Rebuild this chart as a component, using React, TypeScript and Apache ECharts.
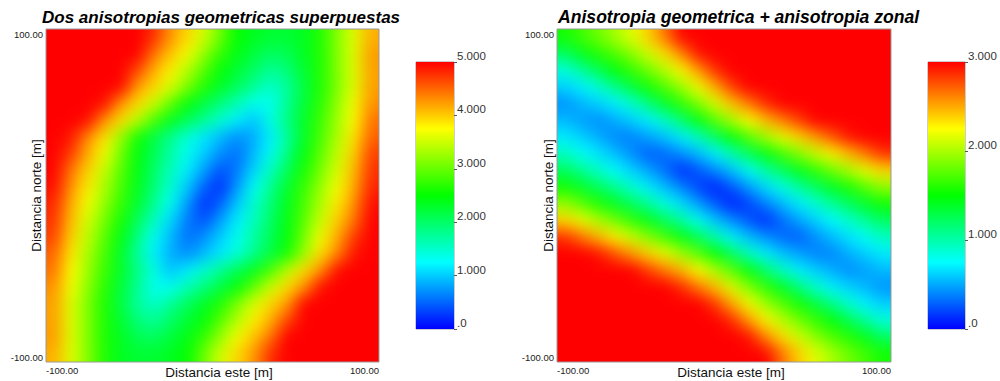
import React, { useEffect, useRef } from 'react';
import * as echarts from 'echarts';

// ---------- data ----------
// Cell centres (metres) of the variogram-map grid, west->east and south->north
const CELL_CENTERS = [-95, -85, -75, -65, -55, -45, -35, -25, -15, -5, 5, 15, 25, 35, 45, 55, 65, 75, 85, 95];
const AXIS_MIN = -100;
const AXIS_MAX = 100;
const LEFT_SCALE_TICKS = [0, 1, 2, 3, 4, 5];
const RIGHT_SCALE_TICKS = [0, 1, 2, 3];
const LEFT_TITLE = 'Dos anisotropias geometricas superpuestas';
const RIGHT_TITLE = 'Anisotropia geometrica + anisotropia zonal';
const X_NAME = 'Distancia este [m]';
const Y_NAME = 'Distancia norte [m]';
const RAINBOW = ['#0000ff', '#00ffff', '#00ff00', '#ffff00', '#ff0000'];

// Rows listed from north (y = 95) to south (y = -95), columns west (x = -95) to east (x = 95)
const LEFT_ROWS = [
  [5, 5, 5, 5, 5, 5, 4.78, 4.27, 3.94, 3.54, 3.02, 2.5, 2.35, 2.27, 2.25, 2.35, 2.65, 3.15, 3.6, 4.15],
  [5, 5, 5, 5, 5, 5, 4.43, 4.04, 3.7, 3.22, 2.74, 2.4, 2.2, 2.02, 2.1, 2.34, 2.64, 3.13, 3.6, 4.25],
  [5, 5, 5, 5, 5, 4.65, 4.14, 3.81, 3.38, 2.92, 2.47, 2.24, 2.0, 1.76, 1.91, 2.26, 2.64, 3.13, 3.6, 4.23],
  [5, 5, 5, 5, 4.97, 4.24, 3.93, 3.56, 3.1, 2.64, 2.31, 2.04, 1.77, 1.5, 1.74, 2.19, 2.64, 3.12, 3.6, 4.23],
  [5, 5, 5, 4.93, 4.27, 3.92, 3.49, 2.97, 2.47, 2.17, 1.88, 1.61, 1.32, 1.33, 1.78, 2.23, 2.7, 3.2, 3.7, 4.3],
  [5, 5, 4.94, 4.3, 3.91, 3.41, 2.84, 2.38, 2.08, 1.78, 1.47, 1.17, 0.95, 1.4, 1.86, 2.32, 2.79, 3.27, 3.75, 4.45],
  [5, 4.89, 4.35, 3.89, 3.26, 2.57, 2.17, 1.8, 1.43, 1.14, 0.91, 0.69, 0.85, 1.18, 1.73, 2.32, 2.85, 3.35, 3.87, 4.53],
  [5, 4.71, 4.16, 3.69, 3.06, 2.46, 2.08, 1.7, 1.33, 1.01, 0.7, 0.54, 0.91, 1.31, 1.87, 2.44, 2.95, 3.45, 3.97, 4.7],
  [5, 4.43, 3.98, 3.48, 2.93, 2.42, 2.0, 1.58, 1.17, 0.78, 0.39, 0.6, 1.06, 1.56, 2.08, 2.6, 3.08, 3.56, 4.08, 4.77],
  [4.95, 4.3, 3.84, 3.35, 2.85, 2.37, 1.92, 1.47, 0.99, 0.48, 0.22, 0.76, 1.3, 1.79, 2.28, 2.76, 3.23, 3.7, 4.16, 4.84],
  [4.84, 4.16, 3.7, 3.23, 2.76, 2.28, 1.79, 1.3, 0.76, 0.22, 0.48, 0.99, 1.47, 1.92, 2.37, 2.85, 3.35, 3.84, 4.3, 4.95],
  [4.77, 4.08, 3.56, 3.08, 2.6, 2.08, 1.56, 1.06, 0.6, 0.39, 0.78, 1.17, 1.58, 2.0, 2.42, 2.93, 3.48, 3.98, 4.43, 5],
  [4.7, 3.97, 3.45, 2.95, 2.44, 1.87, 1.31, 0.91, 0.54, 0.7, 1.01, 1.33, 1.7, 2.08, 2.46, 3.06, 3.69, 4.16, 4.71, 5],
  [4.53, 3.87, 3.35, 2.85, 2.32, 1.73, 1.18, 0.85, 0.69, 0.91, 1.14, 1.43, 1.8, 2.17, 2.57, 3.26, 3.89, 4.35, 4.89, 5],
  [4.45, 3.75, 3.27, 2.79, 2.32, 1.86, 1.4, 0.95, 1.17, 1.47, 1.78, 2.08, 2.38, 2.84, 3.41, 3.91, 4.3, 4.94, 5, 5],
  [4.3, 3.7, 3.2, 2.7, 2.23, 1.78, 1.33, 1.32, 1.61, 1.88, 2.17, 2.47, 2.97, 3.49, 3.92, 4.27, 4.93, 5, 5, 5],
  [4.23, 3.6, 3.12, 2.64, 2.19, 1.74, 1.5, 1.77, 2.04, 2.31, 2.64, 3.1, 3.56, 3.93, 4.24, 4.97, 5, 5, 5, 5],
  [4.23, 3.6, 3.13, 2.64, 2.26, 1.91, 1.76, 2.0, 2.24, 2.47, 2.92, 3.38, 3.81, 4.14, 4.65, 5, 5, 5, 5, 5],
  [4.25, 3.6, 3.13, 2.64, 2.34, 2.1, 2.02, 2.2, 2.4, 2.74, 3.22, 3.7, 4.04, 4.43, 5, 5, 5, 5, 5, 5],
  [4.15, 3.6, 3.15, 2.65, 2.35, 2.25, 2.27, 2.35, 2.5, 3.02, 3.54, 3.94, 4.27, 4.78, 5, 5, 5, 5, 5, 5],
];

const RIGHT_ROWS = [
  [1.55, 1.69, 1.83, 1.99, 2.17, 2.39, 2.67, 3, 3, 3, 3, 3, 3, 3, 3, 3, 3, 3, 3, 3],
  [1.21, 1.42, 1.59, 1.73, 1.9, 2.11, 2.34, 2.61, 2.95, 3, 3, 3, 3, 3, 3, 3, 3, 3, 3, 3],
  [0.84, 1.04, 1.26, 1.48, 1.65, 1.83, 2.04, 2.27, 2.55, 2.87, 3, 3, 3, 3, 3, 3, 3, 3, 3, 3],
  [0.61, 0.71, 0.87, 1.09, 1.32, 1.55, 1.74, 1.96, 2.22, 2.5, 2.82, 3, 3, 3, 3, 3, 3, 3, 3, 3],
  [0.43, 0.53, 0.62, 0.71, 0.89, 1.13, 1.4, 1.63, 1.87, 2.15, 2.43, 2.64, 2.87, 3, 3, 3, 3, 3, 3, 3],
  [0.55, 0.47, 0.41, 0.51, 0.61, 0.71, 0.92, 1.19, 1.47, 1.75, 2.0, 2.25, 2.45, 2.63, 2.82, 3, 3, 3, 3, 3],
  [0.7, 0.61, 0.52, 0.39, 0.38, 0.48, 0.58, 0.71, 0.94, 1.23, 1.49, 1.74, 1.97, 2.19, 2.37, 2.55, 2.75, 2.94, 3, 3],
  [0.94, 0.78, 0.67, 0.56, 0.42, 0.27, 0.31, 0.43, 0.56, 0.72, 0.98, 1.24, 1.46, 1.68, 1.89, 2.09, 2.28, 2.46, 2.65, 2.86],
  [1.23, 1.07, 0.91, 0.74, 0.62, 0.48, 0.32, 0.12, 0.25, 0.41, 0.58, 0.78, 1.02, 1.23, 1.43, 1.63, 1.82, 2.01, 2.19, 2.37],
  [1.54, 1.38, 1.23, 1.06, 0.88, 0.7, 0.55, 0.38, 0.19, 0.09, 0.26, 0.46, 0.65, 0.83, 1.04, 1.23, 1.4, 1.57, 1.76, 1.94],
  [1.94, 1.76, 1.57, 1.4, 1.23, 1.04, 0.83, 0.65, 0.46, 0.26, 0.09, 0.19, 0.38, 0.55, 0.7, 0.88, 1.06, 1.23, 1.38, 1.54],
  [2.37, 2.19, 2.01, 1.82, 1.63, 1.43, 1.23, 1.02, 0.78, 0.58, 0.41, 0.25, 0.12, 0.32, 0.48, 0.62, 0.74, 0.91, 1.07, 1.23],
  [2.86, 2.65, 2.46, 2.28, 2.09, 1.89, 1.68, 1.46, 1.24, 0.98, 0.72, 0.56, 0.43, 0.31, 0.27, 0.42, 0.56, 0.67, 0.78, 0.94],
  [3, 3, 2.94, 2.75, 2.55, 2.37, 2.19, 1.97, 1.74, 1.49, 1.23, 0.94, 0.71, 0.58, 0.48, 0.38, 0.39, 0.52, 0.61, 0.7],
  [3, 3, 3, 3, 3, 2.82, 2.63, 2.45, 2.25, 2.0, 1.75, 1.47, 1.19, 0.92, 0.71, 0.61, 0.51, 0.41, 0.47, 0.55],
  [3, 3, 3, 3, 3, 3, 3, 2.87, 2.64, 2.43, 2.15, 1.87, 1.63, 1.4, 1.13, 0.89, 0.71, 0.62, 0.53, 0.43],
  [3, 3, 3, 3, 3, 3, 3, 3, 3, 2.82, 2.5, 2.22, 1.96, 1.74, 1.55, 1.32, 1.09, 0.87, 0.71, 0.61],
  [3, 3, 3, 3, 3, 3, 3, 3, 3, 3, 2.87, 2.55, 2.27, 2.04, 1.83, 1.65, 1.48, 1.26, 1.04, 0.84],
  [3, 3, 3, 3, 3, 3, 3, 3, 3, 3, 3, 2.95, 2.61, 2.34, 2.11, 1.9, 1.73, 1.59, 1.42, 1.21],
  [3, 3, 3, 3, 3, 3, 3, 3, 3, 3, 3, 3, 3, 2.67, 2.39, 2.17, 1.99, 1.83, 1.69, 1.55],
];

// ---------- layout ----------
const FONT = '"Liberation Sans", Arial, Helvetica, sans-serif';
const PLOT_L = { left: 46, top: 29, width: 333, height: 333 };
const PLOT_R = { left: 557, top: 29, width: 334, height: 333 };
const BAR_L = { left: 416, top: 62, width: 38, height: 267 };
const BAR_R = { left: 928, top: 62, width: 37, height: 267 };

function FieldLayer({ rows, max, box }: { rows: number[][]; max: number; box: any }) {
  const ref = useRef<HTMLDivElement>(null);
  useEffect(() => {
    if (!ref.current) return;
    const chart = echarts.init(ref.current, null, { renderer: 'svg' });
    const data: number[][] = [];
    rows.forEach((row, ri) => row.forEach((v, ci) => data.push([ci, rows.length - 1 - ri, v])));
    chart.setOption({
      animation: false,
      grid: { left: 0, right: 0, top: 0, bottom: 0 },
      xAxis: { type: 'category', data: CELL_CENTERS.map(String), show: false },
      yAxis: { type: 'category', data: CELL_CENTERS.map(String), show: false },
      visualMap: {
        show: false,
        type: 'continuous',
        min: 0,
        max,
        dimension: 2,
        inRange: { color: RAINBOW },
      },
      series: [
        {
          type: 'heatmap',
          data,
          silent: true,
          itemStyle: { borderWidth: 0 },
          emphasis: { disabled: true },
        },
      ],
    });
    return () => chart.dispose();
  }, [rows, max]);
  return (
    <div
      style={{
        position: 'absolute',
        left: box.left,
        top: box.top,
        width: box.width,
        height: box.height,
        overflow: 'hidden',
      }}
    >
      <div ref={ref} style={{ width: box.width, height: box.height, filter: 'url(#fieldSmooth)' }} />
    </div>
  );
}

function gradient() {
  return new echarts.graphic.LinearGradient(
    0,
    1,
    0,
    0,
    RAINBOW.map((c, i) => ({ offset: i / (RAINBOW.length - 1), color: c }))
  );
}

function Frame() {
  const ref = useRef<HTMLDivElement>(null);
  useEffect(() => {
    if (!ref.current) return;
    const chart = echarts.init(ref.current, null, { renderer: 'svg' });
    const fmtPos = (v: number) => v.toFixed(2);
    const fmtScale = (v: number) => (v === 0 ? '.0' : v.toFixed(3));
    const plotX = (gridIndex: number) => ({
      gridIndex,
      type: 'value',
      min: AXIS_MIN,
      max: AXIS_MAX,
      interval: AXIS_MAX - AXIS_MIN,
      splitLine: { show: false },
      axisLine: { show: false },
      axisTick: { show: false },
      axisLabel: {
        formatter: fmtPos,
        fontSize: 9.5,
        color: '#222',
        fontFamily: FONT,
        margin: 3,
        alignMinLabel: 'left',
        alignMaxLabel: 'right',
      },
    });
    const plotY = (gridIndex: number) => ({
      gridIndex,
      type: 'value',
      min: AXIS_MIN,
      max: AXIS_MAX,
      interval: AXIS_MAX - AXIS_MIN,
      splitLine: { show: false },
      axisLine: { show: false },
      axisTick: { show: false },
      axisLabel: {
        formatter: fmtPos,
        fontSize: 9.5,
        color: '#222',
        fontFamily: FONT,
        margin: 3,
        verticalAlignMinLabel: 'bottom',
        verticalAlignMaxLabel: 'top',
      },
    });
    const scaleY = (gridIndex: number, ticks: number[]) => ({
      gridIndex,
      type: 'value',
      position: 'right',
      min: ticks[0],
      max: ticks[ticks.length - 1],
      interval: 1,
      splitLine: { show: false },
      axisLine: { show: false },
      axisTick: { show: true, length: 3, lineStyle: { color: '#555', width: 1 } },
      axisLabel: {
        formatter: fmtScale,
        fontSize: 11.5,
        color: '#333',
        fontFamily: FONT,
        margin: 3,
        verticalAlign: 'bottom',
      },
    });
    const gridStyle = { show: true, borderColor: '#9a9a9a', borderWidth: 1, backgroundColor: 'transparent' };
    const txt = (text: string, x: number, y: number, size: number, extra: any = {}) => ({
      type: 'text',
      x,
      y,
      silent: true,
      ...extra,
      style: {
        text,
        fontSize: size,
        fontFamily: FONT,
        fill: '#111',
        textAlign: 'center',
        textVerticalAlign: 'middle',
        ...(extra.style || {}),
      },
    });
    chart.setOption({
      animation: false,
      grid: [
        { ...PLOT_L, ...gridStyle },
        { ...PLOT_R, ...gridStyle },
        { ...BAR_L, ...gridStyle },
        { ...BAR_R, ...gridStyle },
      ],
      xAxis: [
        plotX(0),
        plotX(1),
        { gridIndex: 2, type: 'category', data: ['escala'], show: false },
        { gridIndex: 3, type: 'category', data: ['escala'], show: false },
      ],
      yAxis: [plotY(0), plotY(1), scaleY(2, LEFT_SCALE_TICKS), scaleY(3, RIGHT_SCALE_TICKS)],
      series: [
        {
          type: 'bar',
          xAxisIndex: 2,
          yAxisIndex: 2,
          data: [LEFT_SCALE_TICKS[LEFT_SCALE_TICKS.length - 1]],
          barWidth: '100%',
          silent: true,
          itemStyle: { color: gradient() },
        },
        {
          type: 'bar',
          xAxisIndex: 3,
          yAxisIndex: 3,
          data: [RIGHT_SCALE_TICKS[RIGHT_SCALE_TICKS.length - 1]],
          barWidth: '100%',
          silent: true,
          itemStyle: { color: gradient() },
        },
      ],
      graphic: [
        txt(LEFT_TITLE, 42, 17, 17, {
          style: { textAlign: 'left', fontWeight: 'bold', fontStyle: 'italic', fill: '#000' },
        }),
        txt(RIGHT_TITLE, 558, 17, 17.6, {
          style: { textAlign: 'left', fontWeight: 'bold', fontStyle: 'italic', fill: '#000' },
        }),
        txt(X_NAME, 219, 372, 13.5),
        txt(X_NAME, 731, 372, 13.5),
        txt(Y_NAME, 36, 195.5, 13.5, { rotation: Math.PI / 2 }),
        txt(Y_NAME, 548, 195.5, 13.5, { rotation: Math.PI / 2 }),
      ],
    });
    return () => chart.dispose();
  }, []);
  return <div ref={ref} style={{ position: 'absolute', left: 0, top: 0, width: 1000, height: 381, zIndex: 2 }} />;
}

export default function App() {
  return (
    <div style={{ position: 'absolute', left: 0, top: 0, width: 1000, height: 381, background: '#fff', overflow: 'hidden' }}>
      <svg width="0" height="0" style={{ position: 'absolute' }}>
        <defs>
          <filter id="fieldSmooth" x="0" y="0" width="1" height="1" colorInterpolationFilters="sRGB">
            <feGaussianBlur stdDeviation="8" />
            <feComponentTransfer>
              <feFuncA type="table" tableValues="1 1" />
            </feComponentTransfer>
          </filter>
        </defs>
      </svg>
      <FieldLayer rows={LEFT_ROWS} max={LEFT_SCALE_TICKS[LEFT_SCALE_TICKS.length - 1]} box={PLOT_L} />
      <FieldLayer rows={RIGHT_ROWS} max={RIGHT_SCALE_TICKS[RIGHT_SCALE_TICKS.length - 1]} box={PLOT_R} />
      <Frame />
    </div>
  );
}
